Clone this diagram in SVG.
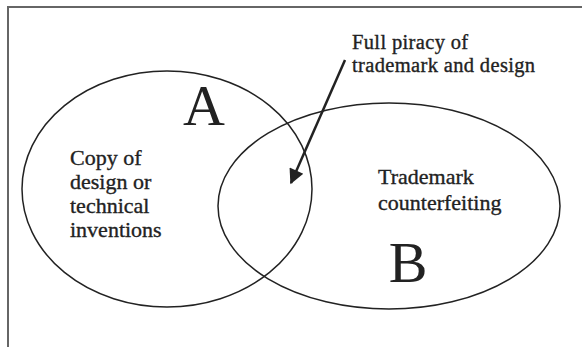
<svg xmlns="http://www.w3.org/2000/svg" width="582" height="347" viewBox="0 0 582 347">
<style>
.frame{stroke:#666;stroke-width:2;fill:none}
.ell{fill:none;stroke:#222;stroke-width:1.5}
.lbl{font-family:"Liberation Serif","Times New Roman",serif;font-size:22px;fill:#222;stroke:#222;stroke-width:0.35}
.note{font-size:20.5px;letter-spacing:0.35px}
.big{font-family:"Liberation Serif","Times New Roman",serif;font-size:58px;fill:#222;text-anchor:middle}
.arrow{stroke:#222;stroke-width:2.5;fill:none}
</style>
<defs>
<marker id="ah" viewBox="0 0 10 10" refX="9" refY="5" markerWidth="8" markerHeight="6" markerUnits="strokeWidth" orient="auto">
<path d="M0,0 L10,5 L0,10 Z" fill="#222"/>
</marker>
</defs>
<rect width="582" height="347" fill="#fff"/>
<path class="frame" d="M8,347 V7 H582"/>
<g id="setA">
<ellipse class="ell" cx="167" cy="189" rx="145" ry="118"/>
<text class="big" x="204" y="125">A</text>
<text class="lbl" x="70" y="165">Copy of</text>
<text class="lbl" x="70" y="189">design or</text>
<text class="lbl" x="70" y="213">technical</text>
<text class="lbl" x="70" y="237">inventions</text>
</g>
<g id="setB">
<ellipse class="ell" cx="389" cy="206" rx="171" ry="103"/>
<text class="big" x="408" y="282">B</text>
<text class="lbl" x="378" y="184">Trademark</text>
<text class="lbl" x="378" y="210">counterfeiting</text>
</g>
<g id="note">
<text class="lbl note" x="352" y="49">Full piracy of</text>
<text class="lbl note" x="352" y="72">trademark and design</text>
</g>
<g id="connectors">
<line class="arrow" x1="345" y1="60" x2="291" y2="183" marker-end="url(#ah)"/>
</g>
</svg>
